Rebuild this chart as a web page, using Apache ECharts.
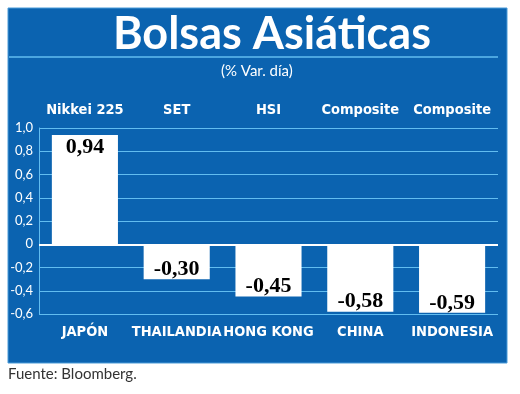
<!DOCTYPE html>
<html>
<head>
<meta charset="utf-8">
<script src="https://cdn.jsdelivr.net/npm/echarts@6/dist/echarts.min.js"></script>
<style>
html,body{margin:0;padding:0;background:#fff;}
#c{width:520px;height:394px;}
</style>
</head>
<body>
<div id="c"></div>
<script>
var countries = ['JAPÓN', 'THAILANDIA', 'HONG KONG', 'CHINA', 'INDONESIA'];
var indices = ['Nikkei 225', 'SET', 'HSI', 'Composite', 'Composite'];
var values = [0.94, -0.30, -0.45, -0.58, -0.59];

var BLUE = '#0b63b0';
var LINE = '#62bdf0';
var condensed = '"DejaVu Sans Condensed", "Liberation Sans Narrow", Lato, sans-serif';

var chart = echarts.init(document.getElementById('c'), null, {renderer: 'canvas'});
var fmt = function (v) { return v.toFixed(2).replace('.', ','); };

var data = values.map(function (v) {
  return {value: v, label: {position: v < 0 ? 'insideBottom' : 'insideTop', distance: v < 0 ? -1 : 1}};
});

chart.setOption({
  animation: false,
  backgroundColor: '#fff',
  graphic: [
    {type: 'rect', z: -10, shape: {x: 8, y: 8, width: 499, height: 355}, style: {fill: BLUE, stroke: '#4b9bd8', lineWidth: 1}},
    {type: 'line', z: -5, shape: {x1: 9, y1: 57, x2: 498, y2: 57}, style: {stroke: LINE, lineWidth: 1.5}},
    {type: 'text', left: 113, top: 12, style: {text: 'Bolsas Asiáticas', fill: '#fff', font: 'bold 45px Lato, "Open Sans", sans-serif'}},
    {type: 'text', left: 221, top: 64, style: {text: '(% Var. día)', fill: '#fff', font: '15px Lato, "Open Sans", sans-serif'}},
    {type: 'text', left: 8, top: 367, style: {text: 'Fuente: Bloomberg.', fill: '#333', font: '15px Lato, "Open Sans", sans-serif'}}
  ],
  grid: {left: 39, right: 22, top: 128, bottom: 80, containLabel: false},
  xAxis: [
    {
      type: 'category', position: 'bottom', data: countries,
      axisLine: {show: false}, axisTick: {show: false},
      axisLabel: {interval: 0, color: '#fff', fontFamily: condensed, fontWeight: 'bold', fontSize: 14.5, margin: 11}
    },
    {
      type: 'category', position: 'top', data: indices,
      axisLine: {show: false}, axisTick: {show: false},
      axisLabel: {interval: 0, color: '#fff', fontFamily: condensed, fontWeight: 'bold', fontSize: 14.5, margin: 10}
    }
  ],
  yAxis: {
    type: 'value', min: -0.6, max: 1.0, interval: 0.2,
    axisLine: {show: true, lineStyle: {color: LINE, width: 1}},
    axisTick: {show: false},
    axisLabel: {
      color: '#fff', fontSize: 13, fontFamily: 'Lato, "Open Sans", sans-serif', margin: 6,
      formatter: function (v) { var r = Math.round(v * 10) / 10; return r === 0 ? '0' : r.toFixed(1).replace('.', ','); }
    },
    splitLine: {lineStyle: {color: LINE, width: 1}}
  },
  series: [
    {
      type: 'bar', xAxisIndex: 0, data: data, barWidth: '72%',
      itemStyle: {color: '#fff'},
      label: {
        show: true, color: '#000', fontWeight: 'bold', fontSize: 22,
        fontFamily: '"Liberation Serif", "DejaVu Serif", serif',
        formatter: function (p) { return fmt(p.value); }
      }
    },
    {
      type: 'line', xAxisIndex: 0, data: [], markLine: {
        silent: true, symbol: 'none', label: {show: false},
        lineStyle: {color: '#fff', width: 2, type: 'solid'},
        data: [{yAxis: 0}]
      }
    }
  ]
});
</script>
</body>
</html>
